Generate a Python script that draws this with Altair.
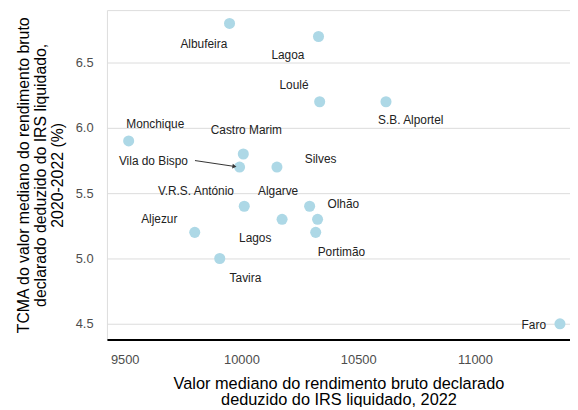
import altair as alt
import pandas as pd

names = ["Albufeira", "Lagoa", "Loulé", "S.B. Alportel", "Monchique", "Castro Marim",
         "Vila do Bispo", "Silves", "V.R.S. António", "Algarve", "Olhão", "Lagos",
         "Portimão", "Aljezur", "Tavira", "Faro"]
x_vals = [9949, 10330, 10335, 10619, 9517, 10008, 9992, 10152, 10012, 10174, 10292,
          10326, 10318, 9800, 9907, 11364]
y_vals = [6.8, 6.7, 6.2, 6.2, 5.9, 5.8, 5.7, 5.7, 5.4, 5.3, 5.4, 5.3, 5.2, 5.2, 5.0, 4.5]
# repelled label anchor positions (data units)
label_x = [9839, 10199, 10225, 10725, 9631, 10021, 9623, 10339, 9805, 10157, 10436,
           10059, 10428, 9648, 10017, 11252]
label_y = [6.644, 6.56, 6.33, 6.06, 6.03, 5.985, 5.745, 5.76, 5.52, 5.52, 5.42, 5.16,
           5.05, 5.3, 4.85, 4.487]
# connector for Vila do Bispo
seg_x = [9801]
seg_y = [5.75]
seg_x2 = [9970]
seg_y2 = [5.705]

x_ticks = [9500, 10000, 10500, 11000]
y_ticks = [4.5, 5.0, 5.5, 6.0, 6.5]

df = pd.DataFrame({"name": names, "x": x_vals, "y": y_vals, "lx": label_x, "ly": label_y})
seg = pd.DataFrame({"x": seg_x, "y": seg_y, "x2": seg_x2, "y2": seg_y2})

FONT = "Liberation Sans"
xs = alt.Scale(domain=[9424, 11407], zero=False, nice=False)
ys = alt.Scale(domain=[4.379, 6.902], zero=False, nice=False)

x_axis = alt.Axis(values=x_ticks, format="d", grid=False, ticks=False, labelPadding=14,
                  domain=True, domainColor="black", domainWidth=2,
                  labelColor="#4d4d4d", labelFontSize=13, labelFont=FONT,
                  title=["Valor mediano do rendimento bruto declarado", "deduzido do IRS liquidado, 2022"],
                  titleFont=FONT, titleFontSize=16.5, titleFontWeight="normal", titleColor="black",
                  titlePadding=9, titleLineHeight=17)
y_axis = alt.Axis(values=y_ticks, grid=True, gridColor="#dcdcdc", gridWidth=1, ticks=False,
                  domain=False, labelPadding=14, labelColor="#4d4d4d", labelFontSize=13,
                  labelFont=FONT,
                  title=["TCMA do valor mediano do rendimento bruto",
                         "declarado deduzido do IRS liquidado,", "2020-2022 (%)"],
                  titleFont=FONT, titleFontSize=16, titleFontWeight="normal", titleColor="black",
                  titlePadding=10, titleLineHeight=17)

points = alt.Chart(df).mark_circle(size=125, opacity=1, color="#ADD8E6").encode(
    x=alt.X("x:Q", scale=xs, axis=x_axis),
    y=alt.Y("y:Q", scale=ys, axis=y_axis),
)

labels = alt.Chart(df).mark_text(font=FONT, fontSize=12, color="#222222",
                                 align="center", baseline="middle").encode(
    x=alt.X("lx:Q", scale=xs),
    y=alt.Y("ly:Q", scale=ys),
    text="name:N",
)

rule = alt.Chart(seg).mark_rule(color="#333333", strokeWidth=1).encode(
    x=alt.X("x:Q", scale=xs), y=alt.Y("y:Q", scale=ys),
    x2="x2:Q", y2="y2:Q",
)
head = alt.Chart(seg).mark_point(shape="triangle-right", filled=True, color="#333333",
                                 size=22, angle=9, opacity=1).encode(
    x=alt.X("x2:Q", scale=xs), y=alt.Y("y2:Q", scale=ys),
)

chart = alt.layer(points, rule, head, labels).properties(
    width=468, height=333,
    autosize=alt.AutoSizeParams(type="none"),
    padding={"left": 100, "top": 0, "right": 0, "bottom": 66},
).configure_view(stroke=None).configure(background="white")

chart.save("out.html", embed_options={"renderer": "svg", "actions": False})
